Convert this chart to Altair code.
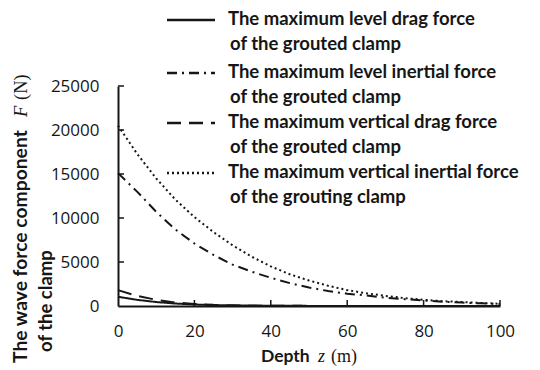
import altair as alt
import pandas as pd

# Depth below the surface (m)
depth = [0, 5, 10, 15, 20, 25, 30, 35, 40, 45, 50, 55, 60, 65, 70, 75, 80, 85, 90, 95, 100]

# Maximum wave force components on the clamp (N)
level_drag = [1050, 700, 450, 280, 170, 100, 60, 40, 25, 18, 12, 9, 7, 5, 4, 3, 3, 2, 2, 2, 1]
level_inertial = [15100, 13000, 10700, 8700, 7100, 5800, 4700, 3900, 3200, 2600, 2100,
                  1700, 1400, 1200, 950, 780, 620, 490, 390, 300, 230]
vertical_drag = [1800, 1150, 700, 400, 230, 130, 80, 50, 30, 20, 14, 10, 7, 5, 4, 3, 3, 2, 2, 2, 1]
vertical_inertial = [20500, 17300, 14500, 12100, 10100, 8400, 6900, 5600, 4500, 3600, 2900,
                     2300, 1800, 1450, 1150, 900, 700, 550, 450, 350, 250]

series_keys = ["level_drag", "level_inertial", "vertical_drag", "vertical_inertial"]
series_values = [level_drag, level_inertial, vertical_drag, vertical_inertial]
legend_lines = [
    ["The maximum level drag force", " of the grouted clamp"],
    ["The maximum level inertial force", "of the grouted clamp"],
    ["The maximum vertical drag force", "of the grouted clamp"],
    ["The maximum vertical inertial force", "of the grouting clamp"],
]
dash_styles = [[1, 0], [10, 5, 2, 5], [14, 8], [2, 3]]

x_ticks = [0, 20, 40, 60, 80, 100]
y_ticks = [0, 5000, 10000, 15000, 20000, 25000]

# Plot area geometry (pixels)
LEFT, TOP, W, H = 118, 86, 382, 220
INK = "#161616"
BOLD_FONT = "Lato"
NUM_FONT = "Open Sans"
SERIF = "Liberation Serif"

rows = []
for key, vals in zip(series_keys, series_values):
    for d, v in zip(depth, vals):
        rows.append({"depth": d, "force": v, "series": key})
df = pd.DataFrame(rows)

x_scale = alt.Scale(domain=[0, 100], nice=False)
y_scale = alt.Scale(domain=[0, 25000], nice=False)

curves = alt.Chart(df).mark_line(strokeWidth=2, color=INK).encode(
    x=alt.X("depth:Q", scale=x_scale,
            axis=alt.Axis(values=x_ticks, format="d", title=None, grid=False, ticks=False,
                          tickSize=0, labelFlush=False, labelOverlap=False,
                          labelFont=NUM_FONT, labelFontSize=17, labelColor=INK,
                          labelPadding=17, domainColor=INK, domainWidth=2)),
    y=alt.Y("force:Q", scale=y_scale,
            axis=alt.Axis(values=y_ticks, format="d", title=None, grid=False, ticks=False,
                          tickSize=0, labelFlush=False, labelOverlap=False,
                          labelFont=NUM_FONT, labelFontSize=17, labelColor=INK,
                          labelPadding=19, domainColor=INK, domainWidth=2)),
    strokeDash=alt.StrokeDash("series:N", scale=alt.Scale(domain=series_keys, range=dash_styles),
                              legend=None),
    detail="series:N",
)

# Inward-pointing tick marks
ytick_rules = alt.Chart(pd.DataFrame({"v": y_ticks[1:]})).mark_rule(color=INK, strokeWidth=1.5).encode(
    y=alt.Y("v:Q", scale=y_scale), x=alt.value(0), x2=alt.value(6))
xtick_rules = alt.Chart(pd.DataFrame({"v": x_ticks[1:]})).mark_rule(color=INK, strokeWidth=1.5).encode(
    x=alt.X("v:Q", scale=x_scale), y=alt.value(H), y2=alt.value(H - 6))

one = pd.DataFrame({"k": [0]})


def label(text, px, py, font=BOLD_FONT, size=18.5, weight="bold", style="normal", angle=0,
          align="left", baseline="middle"):
    return alt.Chart(one).mark_text(
        text=text, font=font, fontSize=size, fontWeight=weight, fontStyle=style,
        angle=angle, align=align, baseline=baseline, color=INK,
    ).encode(x=alt.value(px - LEFT), y=alt.value(py - TOP))


# Legend above the curves
legend_layers = []
entry_y = [19, 72, 122, 172]
for lines, dash, ey in zip(legend_lines, dash_styles, entry_y):
    legend_layers.append(
        alt.Chart(one).mark_rule(color=INK, strokeWidth=2.5, strokeDash=dash).encode(
            x=alt.value(167 - LEFT), x2=alt.value(215 - LEFT), y=alt.value(ey + 1 - TOP)))
    legend_layers.append(label(lines[0], 228, ey))
    legend_layers.append(label(lines[1], 230, ey + 25))

# Axis titles
titles = [
    label("The wave force component", 21, 363, angle=270, size=19.3),
    label("F", 21, 117, font=SERIF, weight="normal", style="italic", angle=270),
    label("(N)", 21, 100, font=SERIF, weight="normal", angle=270),
    label("of the clamp", 46, 352, angle=270),
    label("Depth", 261, 357, size=17.5),
    label("z", 318, 357, font=SERIF, weight="normal", style="italic", size=18),
    label("(m)", 331, 357, font=SERIF, weight="normal", size=18),
]

chart = alt.layer(curves, ytick_rules, xtick_rules, *legend_layers, *titles).properties(
    width=W, height=H,
    autosize=alt.AutoSizeParams(type="none"),
    padding={"left": LEFT, "top": TOP, "right": 540 - LEFT - W, "bottom": 370 - TOP - H},
    background="white",
).configure_view(stroke=None)

chart.save("out.html", embed_options={"renderer": "svg", "actions": False})
